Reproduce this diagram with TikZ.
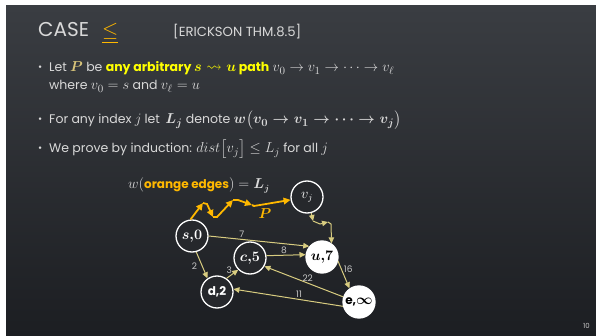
\documentclass[tikz,border=0pt]{standalone}
\usepackage{amsmath,amssymb}
\usepackage{fontspec}
\setmainfont{Poppins}
\usetikzlibrary{arrows.meta}
\definecolor{bgtop}{HTML}{3A3D42}
\definecolor{bgbot}{HTML}{1C1E22}
\definecolor{bgnode}{HTML}{26282C}
\definecolor{txt}{HTML}{D9D9D9}
\definecolor{org}{HTML}{FFB800}
\definecolor{yel}{HTML}{FFFF00}
\definecolor{kha}{HTML}{D8CC80}
\definecolor{pgold}{HTML}{D8C47A}
\definecolor{lbl}{HTML}{C8C8C8}
\newcommand\mm[1]{{\fontsize{15.5}{16}\selectfont$#1$}}
\newcommand\gm[1]{{\fontsize{13.5}{14}\selectfont$#1$}}
\begin{document}
\begin{tikzpicture}[x=1pt,y=-1pt,
  vtx/.style={circle,draw=white,line width=1.3pt,minimum size=32pt,inner sep=0pt,font=\fontsize{12}{13}\selectfont\bfseries},
  darkv/.style={vtx,fill=bgnode,text=white},
  lightv/.style={vtx,fill=white,text=black},
  edge/.style={draw=kha,line width=1pt,-{Triangle[length=6pt,width=5.5pt]}},
  kpath/.style={draw=kha,line width=1pt,-{Triangle[length=6pt,width=5.5pt]}},
  opath/.style={draw=org,line width=1.8pt,-{Triangle[length=7pt,width=6.5pt]}},
  wlab/.style={text=lbl,font=\fontsize{9}{10}\selectfont,inner sep=1pt},
  body/.style={anchor=base west,text=txt,inner sep=0pt,font=\fontsize{12.5}{15}\selectfont},
  bul/.style={anchor=base west,text=txt,inner sep=0pt,font=\fontsize{10}{12}\selectfont}]
\useasboundingbox (0,0) rectangle (596,336);
\fill[white] (0,0) rectangle (596,336);
\shade[top color=bgtop,bottom color=bgbot] (6,6) rectangle (596,336);
% title
\node[anchor=base west,text=txt,inner sep=0pt,font=\fontsize{20}{24}\selectfont] (title) at (38,37) {CASE};
\node[anchor=base west,text=org,inner sep=0pt,font=\fontsize{20}{24}\selectfont] (le) at (102,37) {$\underline{\leq}$};
\node[anchor=base west,text=txt,inner sep=0pt,font=\fontsize{13.2}{16}\selectfont] (ref) at (173,37) {[ERICKSON THM.8.5]};
% bullets
\node[bul] (b1) at (38,71) {•};
\node[body] (t1) at (49,72) {Let \textcolor{pgold}{\mm{\boldsymbol{P}}} be \textcolor{yel}{\bfseries any arbitrary \mm{\boldsymbol{s\rightsquigarrow u}} path} \mm{v_0\to v_1\to\cdots\to v_\ell}};
\node[body] (t1b) at (49,90) {where \mm{v_0=s} and \mm{v_\ell=u}};
\node[bul] (b2) at (38,123) {•};
\node[body] (t2) at (49,124) {For any index \mm{j}\kern3pt let\kern2pt\ \mm{\boldsymbol{L_j}} denote \mm{\boldsymbol{w\bigl(v_0\to v_1\to\cdots\to v_j\bigr)}}};
\node[bul] (b3) at (38,152) {•};
\node[body] (t3) at (49,153) {We prove by induction: \mm{dist\bigl[v_j\bigr]\leq L_j} for all \mm{j}};
% graph label
\node[anchor=base west,text=txt,inner sep=0pt,font=\fontsize{12}{14}\selectfont] (wl) at (128,189) {\gm{w(}\textcolor{org}{\bfseries orange edges}\gm{)=\boldsymbol{L_j}}};
% nodes
\node[darkv] (vj) at (307,197) {\gm{v_j}};
\node[darkv] (s) at (192,236) {\gm{\boldsymbol{s{,}0}}};
\node[lightv] (u) at (322,257) {\gm{\boldsymbol{u{,}7}}};
\node[darkv] (c) at (250,258) {\gm{\boldsymbol{c{,}5}}};
\node[darkv] (d) at (217,292) {d,2};
\node[lightv] (e) at (359,302) {e,\gm{\boldsymbol{\infty}}};
% orange path
\coordinate (o1) at (203,203);
\coordinate (o2) at (207,204);
\coordinate (o3) at (213,217);
\coordinate (o4) at (217,217);
\coordinate (o5) at (233,200);
\coordinate (o6) at (238,200);
\coordinate (o7) at (252,205);
\coordinate (o8) at (254,206);
\draw[opath] (s.95) -- (o1);
\draw[opath] (o1) -- (o2) -- (o3);
\draw[opath] (o3) -- (o4) -- (o5);
\draw[opath] (o5) -- (o6) -- (o7);
\draw[opath] (o7) -- (o8) -- (vj.190);
\node[text=org,font=\fontsize{11}{13}\selectfont] (P) at (265,214) {\gm{\boldsymbol{P}}};
% khaki path vj -> u
\coordinate (k1) at (313,221);
\coordinate (k2) at (320,224);
\coordinate (k3) at (328,222);
\coordinate (k4) at (331,224);
\draw[kpath] (vj.-75) -- (k1);
\draw[kpath] (k1) -- (k2) -- (k3);
\draw[kpath] (k3) -- (k4) -- (u.55);
% edges
\draw[edge] (s.east) -- node[wlab,above,pos=0.33] {7} (u.140);
\draw[edge] (c.8) -- node[wlab,above,pos=0.45] {8} (u.172);
\draw[edge] (s.-75) -- node[wlab,left=4pt,pos=0.55] {2} (d.125);
\draw[edge] (d.55) -- node[wlab,above left=-1pt,pos=0.5] {3} (c.-135);
\draw[edge] (u.-15) -- node[wlab,right=1pt,pos=0.3] {16} (e.125);
\draw[edge] (e.162) -- node[wlab,above,pos=0.45] {22} (c.-30);
\draw[edge] (e.-165) -- node[wlab,above=0pt,pos=0.4] {11} (d.10);
\node[text=lbl,font=\fontsize{7}{8}\selectfont,anchor=base east,inner sep=0pt] (pg) at (590,328) {10};
\end{tikzpicture}
\end{document}
